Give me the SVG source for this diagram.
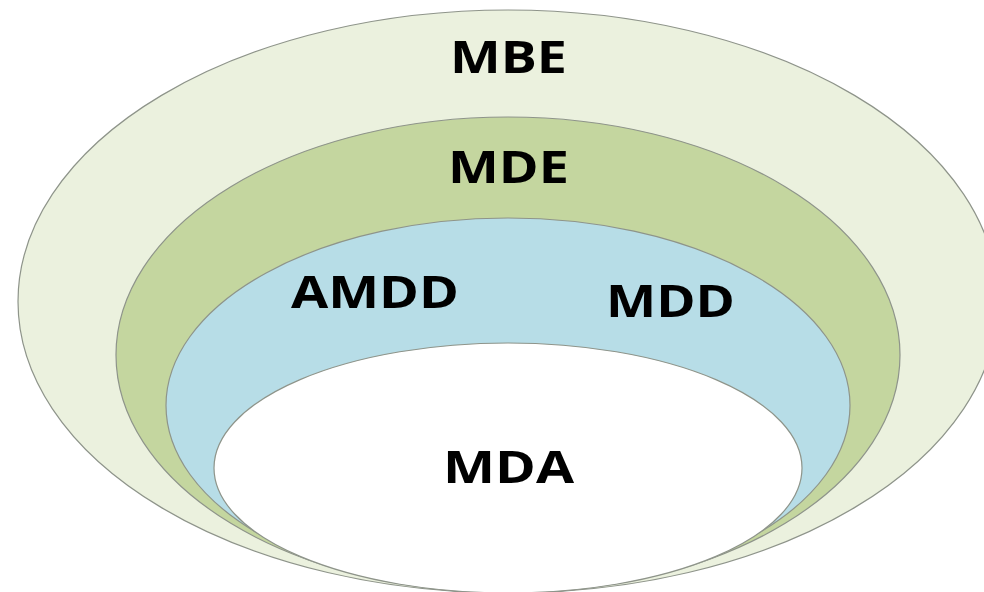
<svg xmlns="http://www.w3.org/2000/svg" width="984" height="592" viewBox="0 0 984 592">
  <style>
    .ring { stroke: #8e948a; stroke-width: 1.2; }
    .lbl { font-family: "Open Sans", "Liberation Sans", sans-serif; font-weight: bold; font-size: 44px; fill: #000; }
  </style>
  <rect x="0" y="0" width="984" height="592" fill="#ffffff"/>
  <g id="mbe">
    <ellipse class="ring" cx="508" cy="301.5" rx="490" ry="291.5" fill="#EBF1DE"/>
    <text class="lbl" x="450" y="73" textLength="117" lengthAdjust="spacingAndGlyphs">MBE</text>
  </g>
  <g id="mde">
    <ellipse class="ring" cx="508" cy="355" rx="392" ry="238" fill="#C4D69F"/>
    <text class="lbl" x="448" y="183" textLength="121" lengthAdjust="spacingAndGlyphs">MDE</text>
  </g>
  <g id="mdd">
    <ellipse class="ring" cx="508" cy="405.5" rx="342" ry="187.5" fill="#B7DDE7"/>
    <text class="lbl" x="291" y="308" textLength="168" lengthAdjust="spacingAndGlyphs">AMDD</text>
    <text class="lbl" x="606" y="317" textLength="129" lengthAdjust="spacingAndGlyphs">MDD</text>
  </g>
  <g id="mda">
    <ellipse class="ring" cx="508" cy="468" rx="294" ry="125" fill="#ffffff"/>
    <text class="lbl" x="443" y="483" textLength="131" lengthAdjust="spacingAndGlyphs">MDA</text>
  </g>
</svg>
